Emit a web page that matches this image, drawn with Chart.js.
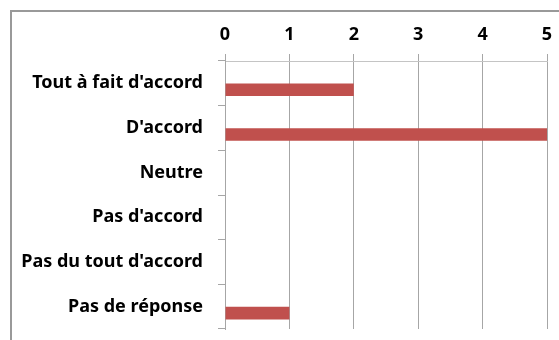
<!DOCTYPE html>
<html>
<head>
<meta charset="utf-8">
<script src="https://cdn.jsdelivr.net/npm/chart.js@4"></script>
<style>
  html, body { margin: 0; padding: 0; background: #fff; }
  #wrap { position: relative; width: 559px; height: 340px; overflow: hidden; }
  #frame { position: absolute; left: 10px; top: 10px; width: 600px; height: 400px;
           border-left: 2px solid #999; border-top: 2px solid #999; box-sizing: border-box; }
  #c { position: absolute; left: 0; top: 0; }
</style>
</head>
<body>
<div id="wrap">
  <div id="frame"></div>
  <canvas id="c" width="559" height="340"></canvas>
</div>
<script>
const categories = ["Tout à fait d'accord", "D'accord", "Neutre", "Pas d'accord", "Pas du tout d'accord", "Pas de réponse"];
const emptySeries = [null, null, null, null, null, null];
const responses = [2, 5, 0, 0, 0, 1];
const xTicks = [0, 1, 2, 3, 4, 5];

const labelFont = { family: "'Noto Sans', 'DejaVu Sans', sans-serif", size: 18, weight: 'bold' };

new Chart(document.getElementById('c'), {
  type: 'bar',
  data: {
    labels: categories,
    datasets: [
      { label: 'vide', data: emptySeries, backgroundColor: 'rgba(0,0,0,0)' },
      { label: 'Réponses', data: responses, backgroundColor: '#C0504D', borderWidth: 0 }
    ]
  },
  options: {
    indexAxis: 'y',
    responsive: false,
    animation: false,
    devicePixelRatio: 1,
    categoryPercentage: 0.58,
    barPercentage: 0.97,
    layout: { padding: { left: 0, top: 0, right: 12, bottom: 11 } },
    plugins: { legend: { display: false }, tooltip: { enabled: false } },
    scales: {
      x: {
        position: 'top',
        min: xTicks[0],
        max: xTicks[xTicks.length - 1],
        afterBuildTicks: (s) => { s.ticks = xTicks.map(v => ({ value: v })); },
        afterFit: (s) => { s.height = 61; s.paddingLeft = 0; s.paddingRight = 0; },
        ticks: { color: '#000', font: labelFont, padding: 8, stepSize: 1 },
        grid: { color: '#a6a6a6', lineWidth: 1, tickLength: 7, drawTicks: true },
        border: { color: '#c4c4c4', width: 1 }
      },
      y: {
        afterFit: (s) => { s.width = 225; s.paddingTop = 0; s.paddingBottom = 0; },
        ticks: { color: '#000', font: labelFont, padding: 15 },
        grid: { color: '#a6a6a6', lineWidth: 1, tickLength: 7, drawOnChartArea: false, offset: true },
        border: { color: '#a6a6a6', width: 1 }
      }
    }
  }
});
</script>
</body>
</html>
